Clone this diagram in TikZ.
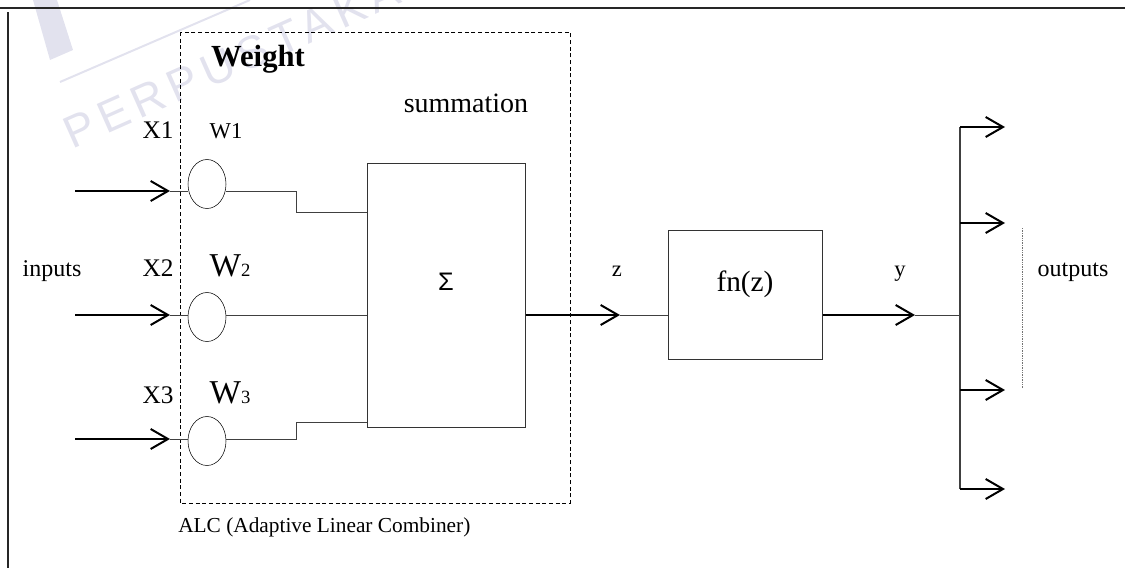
\documentclass[tikz,border=0pt]{standalone}
\usepackage{fontspec}
\setmainfont{Liberation Serif}
\newfontfamily\sansfnt{Liberation Sans}
\newfontfamily\markfnt[LetterSpace=15]{Liberation Sans}
\usetikzlibrary{arrows.meta,shapes.geometric}
\newcommand\fsz[1]{\fontsize{#1}{#1}\selectfont}
\definecolor{markcol}{RGB}{226,226,238}
\begin{document}
\begin{tikzpicture}[x=0.75pt,y=-0.75pt,
  wire/.style={draw=black!75, line width=0.75pt},
  bigarrow/.style={draw=black, line width=1.5pt, -{Straight Barb[length=13pt,width=15pt]}},
  weightnode/.style={draw, shape=ellipse, minimum width=28.5pt, minimum height=36.75pt, inner sep=0pt},
  blockbox/.style={draw=black!80, line width=0.75pt, inner sep=0pt},
  lbl/.style={inner sep=0pt, anchor=base}]
\useasboundingbox (0,0) rectangle (1125,568);

% library watermark
\fill[markcol] (33,0) -- (57,0) -- (73,50) -- (50,60) -- cycle;
\draw[markcol, line width=1.5pt] (60,82) -- (250,0);
\node[inner sep=0pt, anchor=base west, rotate=24, text=markcol] (mark) at (72,150) {\markfnt\fsz{34}PERPUSTAKAAN};

% page frame
\draw[black!85, line width=1.5pt] (0,8) -- (1125,8);
\draw[black!85, line width=1.5pt] (8,12) -- (8,568);

% adaptive linear combiner region
\draw[black, line width=0.75pt, dash pattern=on 3pt off 2pt] (180,32) rectangle (570,503);
\node[lbl, anchor=base west] (alc) at (178,532) {\fsz{16}ALC (Adaptive Linear Combiner)};
\node[lbl] (wt) at (258,66) {\fsz{23}\bfseries Weight};

% weights
\node[weightnode] (e1) at (207,184) {};
\node[weightnode] (e2) at (207,317) {};
\node[weightnode] (e3) at (207,441) {};

% summation and activation blocks
\node[blockbox, minimum width=118.5pt, minimum height=198pt] (sig) at (446,295) {};
\node[inner sep=0pt] (sigsym) at (446,282) {\sansfnt\fsz{19}Σ};
\node[lbl] (summ) at (466,112) {\fsz{21}summation};
\node[blockbox, minimum width=115.5pt, minimum height=96.75pt] (fn) at (745,294.5) {};
\node[lbl] (fnl) at (745,291) {\fsz{22}fn(z)};

% labels
\node[lbl] (inl) at (52,276) {\fsz{18}inputs};
\node[lbl] (x1) at (158,138) {\fsz{19}X1};
\node[lbl] (x2) at (158,276) {\fsz{19}X2};
\node[lbl] (x3) at (158,403) {\fsz{19}X3};
\node[lbl] (w1) at (226,138) {\fsz{17}W1};
\node[lbl] (w2) at (230,276) {\fsz{25}W\fsz{14}2};
\node[lbl] (w3) at (230,403) {\fsz{25}W\fsz{14}3};
\node[lbl] (zl) at (617,276) {\fsz{17}z};
\node[lbl] (yl) at (900,276) {\fsz{17}y};
\node[lbl] (outl) at (1073,276) {\fsz{18}outputs};

% input arrows
\coordinate (a1) at (75,191);  \coordinate (t1) at (170,191);
\coordinate (a2) at (75,315);  \coordinate (t2) at (170,315);
\coordinate (a3) at (75,439);  \coordinate (t3) at (170,439);
\draw[bigarrow] (a1) -- (t1);
\draw[bigarrow] (a2) -- (t2);
\draw[bigarrow] (a3) -- (t3);
\draw[wire] (t1) -- (t1 -| e1.west);
\draw[wire] (t2) -- (t2 -| e2.west);
\draw[wire] (t3) -- (t3 -| e3.west);

% weighted signals into the summation block
\coordinate (k1) at (296,212);
\coordinate (k3) at (296,422);
\draw[wire] (e1.east |- t1) -| (k1) -- (k1 -| sig.west);
\draw[wire] (e2.east |- t2) -- (t2 -| sig.west);
\draw[wire] (e3.east |- t3) -| (k3) -- (k3 -| sig.west);

% summation output z
\coordinate (tz) at (620,315);
\draw[bigarrow] (sig.east |- tz) -- (tz);
\draw[wire] (tz) -- (tz -| fn.west);

% activation output y
\coordinate (ty) at (915,315);
\coordinate (bus) at (960,315);
\draw[bigarrow] (fn.east |- ty) -- (ty);
\draw[wire] (ty) -- (bus);

% output fan-out
\coordinate (b1) at (960,127); \coordinate (o1) at (1005,127);
\coordinate (b2) at (960,223); \coordinate (o2) at (1005,223);
\coordinate (b3) at (960,390); \coordinate (o3) at (1005,390);
\coordinate (b4) at (960,489); \coordinate (o4) at (1005,489);
\draw[wire, line width=1pt] (b1) -- (b4);
\draw[bigarrow] (b1) -- (o1);
\draw[bigarrow] (b2) -- (o2);
\draw[bigarrow] (b3) -- (o3);
\draw[bigarrow] (b4) -- (o4);
\coordinate (d1) at (1022,228); \coordinate (d2) at (1022,388);
\draw[black!55, line width=0.75pt, dash pattern=on 1pt off 0.8pt] (d1) -- (d2);
\end{tikzpicture}
\end{document}
